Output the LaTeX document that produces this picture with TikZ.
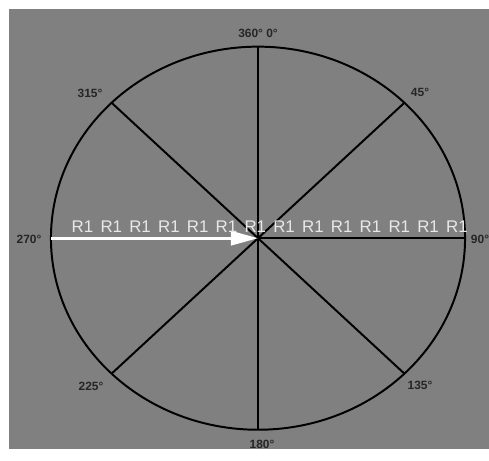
\documentclass[tikz,border=0pt]{standalone}
\usepackage{fontspec}
\setmainfont{Liberation Sans}
\usetikzlibrary{arrows.meta}
\definecolor{bggray}{RGB}{128,128,128}
\definecolor{rtext}{RGB}{232,232,232}

\begin{document}
\begin{tikzpicture}[x=0.025cm, y=-0.025cm,
  spoke/.style={line width=1.4pt, black},
  deg/.style={font=\fontsize{8.5}{9}\selectfont\bfseries, text=black!85, inner sep=0pt},
  rlabel/.style={font=\fontsize{12}{12}\selectfont, text=rtext, inner sep=0pt, anchor=base}]
  \useasboundingbox (0,0) rectangle (489,461);
  \fill[bggray] (9,9) rectangle (489,449);

  \coordinate (o) at (258,238.2);
  % points on the rim
  \foreach \name/\ang in {top/90, ne/45, right/0, se/-45, bot/-90, sw/-135, left/180, nw/135}
    \path (o) ++(\ang:5.175cm and 4.7875cm) coordinate (\name);

  \draw[spoke] (o) ellipse [x radius=5.175cm, y radius=4.7875cm];
  \draw[spoke] (top) -- (bot);
  \draw[spoke] (o) -- (right);
  \draw[spoke] (ne) -- (sw);
  \draw[spoke] (nw) -- (se);
  \draw[line width=2.2pt, white, -{Triangle[length=0.675cm, width=0.35cm]}] (left) -- (o);

  % angle labels
  \node[deg] (d0) at (258,33) {360° 0°};
  \node[deg] (d45) at (420,92) {45°};
  \node[deg] (d90) at (480,239) {90°};
  \node[deg] (d135) at (420,385) {135°};
  \node[deg] (d180) at (262,444) {180°};
  \node[deg] (d225) at (91,386) {225°};
  \node[deg] (d270) at (29,239) {270°};
  \node[deg] (d315) at (90,93) {315°};

  \foreach \i in {0,...,13}
    \node[rlabel] (r\i) at (82.5+28.8*\i,232) {R1};
\end{tikzpicture}
\end{document}
